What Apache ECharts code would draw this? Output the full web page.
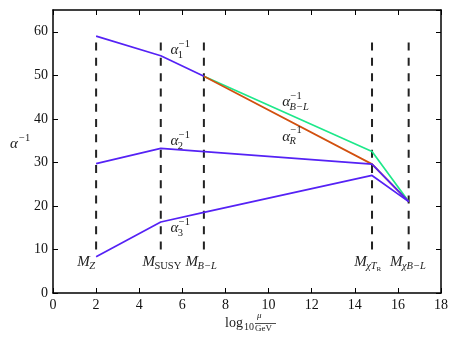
<!DOCTYPE html>
<html><head><meta charset="utf-8">
<script src="https://cdn.jsdelivr.net/npm/echarts@6/dist/echarts.min.js"></script>
<style>html,body{margin:0;padding:0;background:#fff}#c{width:458px;height:345px}</style>
</head><body><div id="c"></div>
<script>
// ---- data ----
const alpha1 = [[2, 59.0], [5, 54.5], [7, 49.8]];
const alphaBL = [[7, 49.8], [14.8, 32.5], [16.5, 21.0]];
const alphaR = [[7, 49.8], [14.8, 29.6], [16.5, 21.0]];
const alpha2 = [[2, 29.7], [5, 33.2], [14.8, 29.6], [16.5, 21.0]];
const alpha3 = [[2, 8.3], [5, 16.3], [7, 18.5], [14.8, 27.0], [16.5, 21.0]];
const scaleLines = [2, 5, 7, 14.8, 16.5];
const scaleLineRange = [10, 58];
const xTicks = [0, 2, 4, 6, 8, 10, 12, 14, 16, 18];
const yTicks = [0, 10, 20, 30, 40, 50, 60];
// annotation texts: [x, y, base, sub, sup, subsub]
const curveLabels = [
  [5.45, 55.7, 'α', '1', '−1'],
  [5.45, 34.8, 'α', '2', '−1'],
  [5.45, 14.9, 'α', '3', '−1'],
  [10.63, 43.8, 'α', 'B−L', '−1'],
  [10.63, 35.9, 'α', 'R', '−1']
];
const scaleLabels = [
  [1.13, 7.2, 'M', 'Z', ''],
  [4.15, 7.2, 'M', 'SUSY', ''],
  [6.15, 7.2, 'M', 'B−L', ''],
  [13.97, 7.2, 'M', 'χT', '', 'R'],
  [15.63, 7.2, 'M', 'χB−L', '']
];

const blue = '#5522f5', green = '#1ee88a', orange = '#d2500f';
const SERIF = '"Liberation Serif", "DejaVu Serif", serif';

const mctx = document.createElement('canvas').getContext('2d');
function tw(text, size, italic) {
  mctx.font = (italic ? 'italic ' : '') + size + 'px "Liberation Serif"';
  return mctx.measureText(text).width;
}
function mathText(px, py, base, sub, sup, subsub) {
  const bs = 15, ss = 10.5;
  const ch = [];
  ch.push({type: 'text', x: px, y: py, style: {text: base, font: 'italic ' + bs + 'px ' + SERIF, fill: '#222', textVerticalAlign: 'middle'}});
  const bw = tw(base, bs, true) + 0.5;
  if (sup) ch.push({type: 'text', x: px + bw, y: py - 6, style: {text: sup, font: ss + 'px ' + SERIF, fill: '#222', textVerticalAlign: 'middle'}});
  if (sub) {
    const roman = sub === 'SUSY' || /^[0-9]/.test(sub);
    ch.push({type: 'text', x: px + bw - 1, y: py + 5, style: {text: sub, font: (roman ? '' : 'italic ') + ss + 'px ' + SERIF, fill: '#222', textVerticalAlign: 'middle'}});
    if (subsub) {
      const sw = tw(sub, ss, !roman);
      ch.push({type: 'text', x: px + bw - 1 + sw, y: py + 8, style: {text: subsub, font: '7px ' + SERIF, fill: '#222', textVerticalAlign: 'middle'}});
    }
  }
  return {type: 'group', children: ch};
}

function lineSeries(data, color) {
  return {type: 'line', data: data, symbol: 'none', lineStyle: {color: color, width: 1.7}, z: 3, animation: false};
}
const series = [];
scaleLines.forEach(x => series.push({
  type: 'line', data: [[x, scaleLineRange[0]], [x, scaleLineRange[1]]], symbol: 'none',
  lineStyle: {color: '#222', width: 2, type: [8, 7.3]}, z: 2, animation: false
}));
series.push(lineSeries(alphaBL, green));
series.push(lineSeries(alphaR, orange));
series.push(lineSeries(alpha1, blue));
series.push(lineSeries(alpha2, blue));
series.push(lineSeries(alpha3, blue));
const allLabels = curveLabels.concat(scaleLabels);
series.push({
  type: 'custom', data: allLabels.map((d, i) => [d[0], d[1], i]), z: 5, animation: false, silent: true,
  renderItem: function (params, api) {
    const i = api.value(2);
    const d = allLabels[i];
    const p = api.coord([api.value(0), api.value(1)]);
    return mathText(p[0], p[1], d[2], d[3], d[4], d[5]);
  }
});

const tickStyle = {inside: true, length: 5, lineStyle: {color: '#000', width: 1}};
const lineStyleAx = {show: true, onZero: false, lineStyle: {color: '#000', width: 1.5}};
const option = {
  backgroundColor: '#fff',
  animation: false,
  grid: {left: 53, right: 17, top: 10, bottom: 52},
  xAxis: [{
    type: 'value', min: 0, max: 18, interval: 2, position: 'bottom',
    axisLine: lineStyleAx, axisTick: tickStyle,
    axisLabel: {color: '#111', fontFamily: SERIF, fontSize: 14, margin: 5},
    splitLine: {show: false}
  }, {
    type: 'value', min: 0, max: 18, interval: 2, position: 'top',
    axisLine: lineStyleAx, axisTick: tickStyle,
    axisLabel: {show: false}, splitLine: {show: false}
  }],
  yAxis: [{
    type: 'value', min: 0, max: 65, interval: 10, position: 'left',
    axisLine: lineStyleAx, axisTick: tickStyle,
    axisLabel: {color: '#111', fontFamily: SERIF, fontSize: 14, margin: 5, showMaxLabel: false,
      formatter: v => (yTicks.indexOf(v) >= 0 ? String(v) : '')},
    splitLine: {show: false}
  }, {
    type: 'value', min: 0, max: 65, interval: 10, position: 'right',
    axisLine: lineStyleAx, axisTick: tickStyle,
    axisLabel: {show: false}, splitLine: {show: false}
  }],
  series: series,
  graphic: [
    // y axis title α^{-1}
    {type: 'text', left: 10, top: 137, style: {text: 'α', font: 'italic 15px ' + SERIF, fill: '#222'}},
    {type: 'text', left: 19, top: 133, style: {text: '−1', font: '10.5px ' + SERIF, fill: '#222'}},
    // x axis title log10 μ/GeV
    {type: 'text', left: 225, top: 316, style: {text: 'log', font: '14px ' + SERIF, fill: '#222'}},
    {type: 'text', left: 244, top: 322, style: {text: '10', font: '10px ' + SERIF, fill: '#222'}},
    {type: 'text', left: 257, top: 311, style: {text: 'μ', font: 'italic 9px ' + SERIF, fill: '#222'}},
    {type: 'rect', left: 255, top: 323, shape: {width: 21, height: 0.8}, style: {fill: '#222'}},
    {type: 'text', left: 255, top: 324, style: {text: 'GeV', font: '9px ' + SERIF, fill: '#222'}}
  ]
};
const chart = echarts.init(document.getElementById('c'), null, {renderer: 'canvas'});
chart.setOption(option);
</script>
</body></html>
